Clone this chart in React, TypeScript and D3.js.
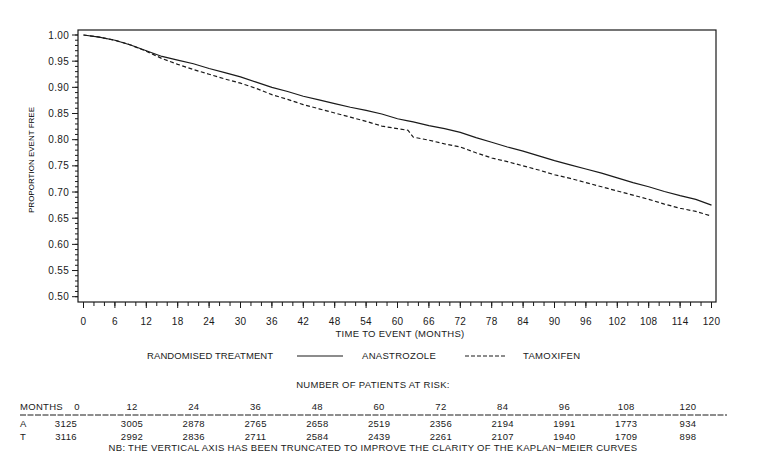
import React from "react";
import * as d3 from "d3";

const months = [0,3,6,9,12,15,18,21,24,27,30,33,36,39,42,45,48,51,54,57,60,62,63,66,69,72,75,78,81,84,87,90,93,96,99,102,105,108,111,114,117,120];
const anastrozole = [1.000,0.996,0.990,0.981,0.970,0.959,0.952,0.945,0.936,0.928,0.920,0.910,0.900,0.892,0.883,0.876,0.869,0.862,0.856,0.849,0.840,0.836,0.834,0.827,0.821,0.814,0.804,0.795,0.786,0.778,0.769,0.760,0.752,0.744,0.736,0.727,0.718,0.710,0.701,0.693,0.686,0.675];
const tamoxifen = [1.000,0.996,0.990,0.981,0.969,0.955,0.944,0.934,0.925,0.916,0.908,0.898,0.886,0.877,0.867,0.859,0.851,0.843,0.835,0.826,0.821,0.818,0.805,0.799,0.792,0.786,0.775,0.765,0.758,0.750,0.742,0.733,0.726,0.718,0.710,0.702,0.694,0.686,0.677,0.669,0.663,0.654];

const xTicks = d3.range(0, 121, 6);
const xMinor = d3.range(0, 121, 2);
const yTicks = d3.range(0.5, 1.0001, 0.05);
const yMinor = d3.range(0.5, 1.0001, 0.01);

const riskMonths = [0,12,24,36,48,60,72,84,96,108,120];
const riskA = [3125,3005,2878,2765,2658,2519,2356,2194,1991,1773,934];
const riskT = [3116,2992,2836,2711,2584,2439,2261,2107,1940,1709,898];

const FONT = "'Liberation Sans', Arial, sans-serif";
const INK = "#1a1a1a";

export default function App() {
  const W = 761, H = 465;
  const frame = { left: 78, right: 716, top: 30, bottom: 302 };
  const x = d3.scaleLinear().domain([0, 120]).range([83.5, 711.5]);
  const y = d3.scaleLinear().domain([0.5, 1.0]).range([296.7, 35]);
  const rx = d3.scaleLinear().domain([12, 120]).range([132, 688]);

  const line = d3.line<[number, number]>().x(d => x(d[0])).y(d => y(d[1])).curve(d3.curveLinear);
  const aPts = months.map((m, i) => [m, anastrozole[i]] as [number, number]);
  const tPts = months.map((m, i) => [m, tamoxifen[i]] as [number, number]);

  const txt = { fontFamily: FONT, fill: INK, letterSpacing: "0.3px" } as React.CSSProperties;

  return (
    <svg width={W} height={H} style={{ position: "absolute", left: 0, top: 0, background: "#fff" }}>
      <rect x={0} y={0} width={W} height={H} fill="#fff" />
      {/* frame */}
      <rect x={frame.left} y={frame.top} width={frame.right - frame.left} height={frame.bottom - frame.top} fill="none" stroke={INK} strokeWidth={1.2} />
      {/* y ticks */}
      {yMinor.map((v, i) => (
        <line key={"ym" + i} x1={frame.left} x2={frame.left - 3} y1={y(v)} y2={y(v)} stroke={INK} strokeWidth={1} />
      ))}
      {yTicks.map((v, i) => (
        <g key={"yt" + i}>
          <line x1={frame.left} x2={frame.left - 6} y1={y(v)} y2={y(v)} stroke={INK} strokeWidth={1} />
          <text x={frame.left - 9} y={y(v)} dy="0.35em" textAnchor="end" fontSize={10} style={txt}>{v.toFixed(2)}</text>
        </g>
      ))}
      {/* x ticks */}
      {xMinor.map((m, i) => (
        <line key={"xm" + i} x1={x(m)} x2={x(m)} y1={frame.bottom} y2={frame.bottom + 4} stroke={INK} strokeWidth={1} />
      ))}
      {xTicks.map((m, i) => (
        <g key={"xt" + i}>
          <line x1={x(m)} x2={x(m)} y1={frame.bottom} y2={frame.bottom + 6} stroke={INK} strokeWidth={1} />
          <text x={x(m)} y={321} dy="0.35em" textAnchor="middle" fontSize={10} style={txt}>{m}</text>
        </g>
      ))}
      {/* axis titles */}
      <text x={400} y={334} dy="0.35em" textAnchor="middle" fontSize={9.5} style={txt}>TIME TO EVENT (MONTHS)</text>
      <text transform="translate(31,160) rotate(-90)" textAnchor="middle" dy="0.35em" fontSize={8} fill="#000" fontFamily={FONT}>PROPORTION EVENT FREE</text>

      {/* curves */}
      <path d={line(aPts) || ""} fill="none" stroke={INK} strokeWidth={1.2} />
      <path d={line(tPts) || ""} fill="none" stroke={INK} strokeWidth={1.2} strokeDasharray="4 2.5" />

      {/* legend */}
      <text x={147} y={356} dy="0.35em" fontSize={9.5} style={{ ...txt, letterSpacing: "0.1px" }}>RANDOMISED TREATMENT</text>
      <line x1={297} x2={343} y1={356} y2={356} stroke={INK} strokeWidth={1.2} />
      <text x={362} y={356} dy="0.35em" fontSize={9.5} style={txt}>ANASTROZOLE</text>
      <line x1={465} x2={507} y1={356} y2={356} stroke={INK} strokeWidth={1.2} strokeDasharray="4 2" />
      <text x={523} y={356} dy="0.35em" fontSize={9.5} style={txt}>TAMOXIFEN</text>

      {/* risk table */}
      <text x={373} y={385} dy="0.35em" textAnchor="middle" fontSize={9.5} style={txt}>NUMBER OF PATIENTS AT RISK:</text>
      <text x={20} y={407} dy="0.35em" fontSize={9.5} style={txt}>MONTHS</text>
      {riskMonths.map((m, i) => (
        <text key={"rh" + i} x={i === 0 ? 77 : rx(m)} y={407} dy="0.35em" textAnchor="middle" fontSize={9.5} style={txt}>{m}</text>
      ))}
      <line x1={20} x2={727} y1={415} y2={415} stroke={INK} strokeWidth={1} strokeDasharray="6 1.5" />
      <text x={20} y={424} dy="0.35em" fontSize={9.5} style={txt}>A</text>
      <text x={20} y={437} dy="0.35em" fontSize={9.5} style={txt}>T</text>
      {riskMonths.map((m, i) => (
        <text key={"ra" + i} x={i === 0 ? 66 : rx(m)} y={424} dy="0.35em" textAnchor="middle" fontSize={9.5} style={txt}>{riskA[i]}</text>
      ))}
      {riskMonths.map((m, i) => (
        <text key={"rt" + i} x={i === 0 ? 66 : rx(m)} y={437} dy="0.35em" textAnchor="middle" fontSize={9.5} style={txt}>{riskT[i]}</text>
      ))}
      <text x={373} y={448} dy="0.35em" textAnchor="middle" fontSize={9.5} style={txt}>NB: THE VERTICAL AXIS HAS BEEN TRUNCATED TO IMPROVE THE CLARITY OF THE KAPLAN−MEIER CURVES</text>
    </svg>
  );
}
